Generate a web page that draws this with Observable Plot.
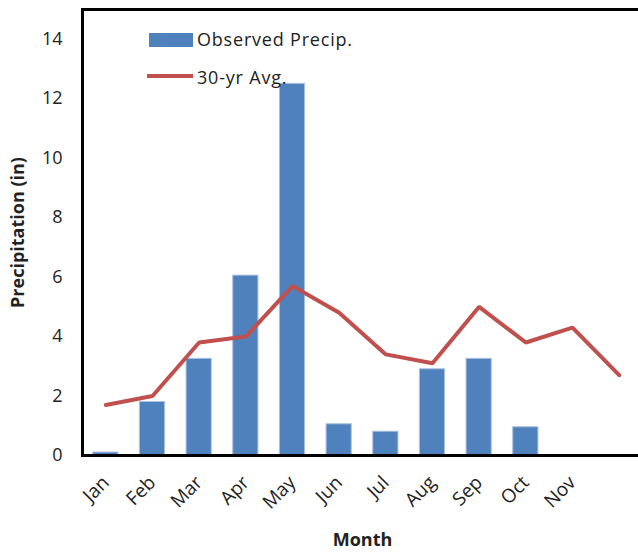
<!DOCTYPE html>
<html><head><meta charset="utf-8">
<script src="https://cdn.jsdelivr.net/npm/d3@7"></script>
<script src="https://cdn.jsdelivr.net/npm/@observablehq/plot@0.6"></script>
<style>
html,body{margin:0;padding:0;overflow:hidden;background:#fff;width:638px;height:552px}
#wrap{position:relative;width:643px;height:552px}
.lg{position:absolute;font-family:"Open Sans",sans-serif;font-size:18px;letter-spacing:0.8px;color:#222;line-height:1;white-space:nowrap}
</style>
</head><body>
<div id="wrap"></div>
<script>
const months = ["Jan","Feb","Mar","Apr","May","Jun","Jul","Aug","Sep","Oct","Nov","Dec"];
const tickLabels = ["Jan","Feb","Mar","Apr","May","Jun","Jul","Aug","Sep","Oct","Nov",""];
const observed = [0.1,1.8,3.25,6.05,12.5,1.05,0.8,2.9,3.25,0.95,null,null];
const avg30 = [1.7,2.0,3.8,4.0,5.7,4.8,3.4,3.1,5.0,3.8,4.3,2.7];
const yTicks = [0,2,4,6,8,10,12,14];
const seriesNames = ["Observed Precip.","30-yr Avg."];

const barData = months.map((m,i)=>({month:m, v:observed[i]})).filter(d=>d.v!=null);
const lineData = months.map((m,i)=>({month:m, v:avg30[i]}));
const labelOf = new Map(months.map((m,i)=>[m,tickLabels[i]]));

const chart = Plot.plot({
  width: 643, height: 552,
  marginLeft: 82, marginRight: 1, marginTop: 9, marginBottom: 97,
  style: {fontFamily: "'Open Sans', sans-serif", fontSize: "17px", color: "#222", background: "#fff"},
  x: {type: "band", domain: months, paddingInner: 0.46, paddingOuter: 0.23, round: false, label: null},
  y: {domain: [0, 15], label: null},
  marks: [
    Plot.barY(barData, {x: "month", y: "v", fill: "#4F81BD", stroke: "#A9C1E0", strokeWidth: 1}),
    Plot.lineY(lineData, {x: "month", y: "v", stroke: "#C0504D", strokeWidth: 4, strokeLinejoin: "miter"}),
    Plot.axisY({ticks: yTicks, tickSize: 0, tickPadding: 20, fontSize: 18, letterSpacing: "1px", label: null}),
    Plot.axisX({tickSize: 0, tickRotate: -45, tickPadding: 24, fontSize: 19, tickFormat: d => labelOf.get(d), label: null}),
    Plot.frame({stroke: "#000", strokeWidth: 3}),
    Plot.text(["Month"], {frameAnchor: "bottom", dy: 90, fontWeight: "bold", fontSize: 18, text: d => d}),
    Plot.text(["Precipitation (in)"], {frameAnchor: "left", dx: -64, rotate: -90, textAnchor: "middle", fontWeight: "bold", fontSize: 18, letterSpacing: "1.5px", text: d => d})
  ]
});
const wrap = document.getElementById("wrap");
wrap.appendChild(chart);

// legend
const lg1 = document.createElement("div");
lg1.style.cssText = "position:absolute;left:149px;top:33px;width:44px;height:14px;background:#4F81BD";
const lt1 = document.createElement("div"); lt1.className = "lg";
lt1.style.cssText += "left:197px;top:30px"; lt1.textContent = seriesNames[0];
const lg2 = document.createElement("div");
lg2.style.cssText = "position:absolute;left:147px;top:74px;width:46px;height:4px;background:#C0504D";
const lt2 = document.createElement("div"); lt2.className = "lg";
lt2.style.cssText += "left:197px;top:68px"; lt2.textContent = seriesNames[1];
[lg1,lt1,lg2,lt2].forEach(e=>wrap.appendChild(e));
</script>
</body></html>
